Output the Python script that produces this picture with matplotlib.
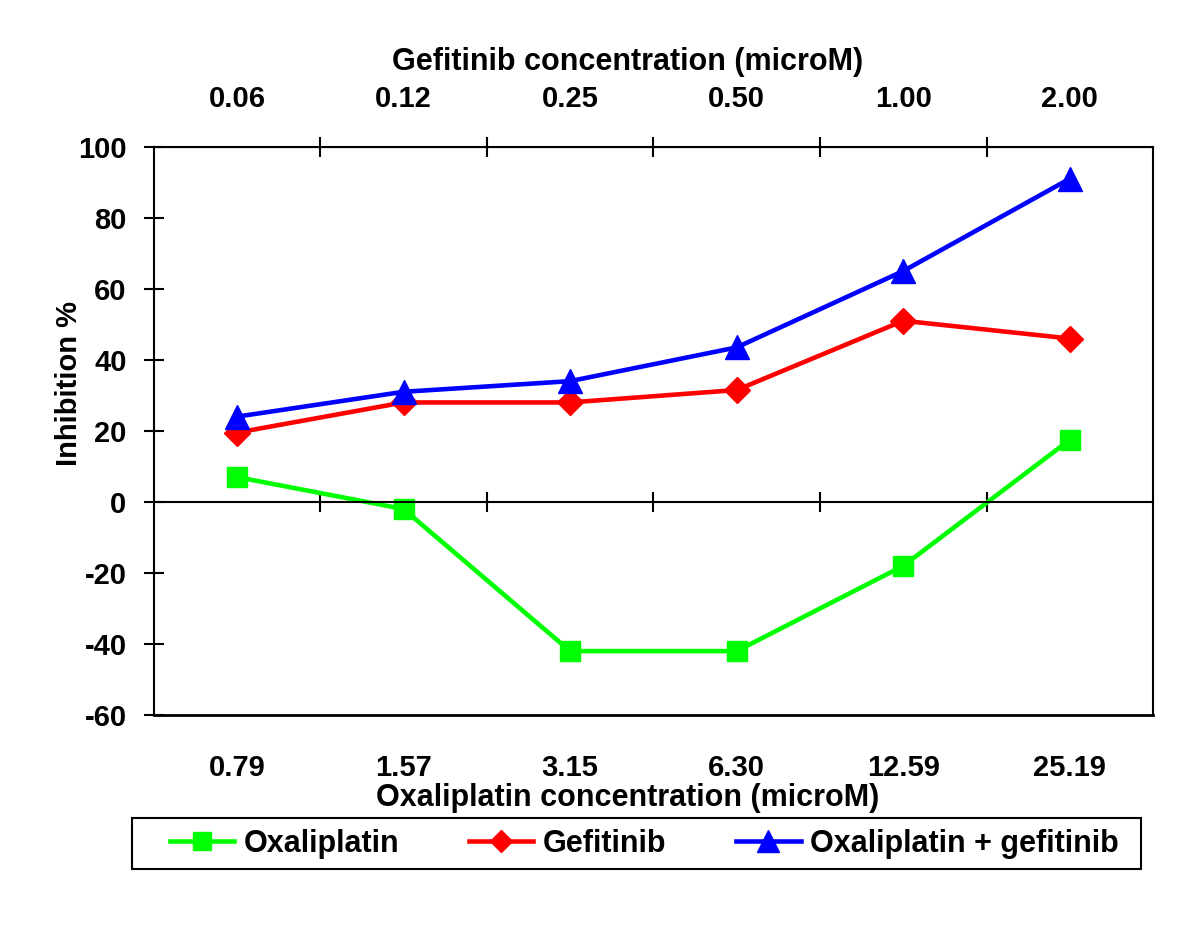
import matplotlib
matplotlib.use("Agg")
import matplotlib.pyplot as plt
from matplotlib.patches import Rectangle
import numpy as np

plt.rcParams['font.family'] = ['Liberation Sans', 'DejaVu Sans']
plt.rcParams['font.weight'] = 'bold'
plt.rcParams['axes.unicode_minus'] = False

oxali_conc = ['0.79', '1.57', '3.15', '6.30', '12.59', '25.19']
gefi_conc = ['0.06', '0.12', '0.25', '0.50', '1.00', '2.00']

oxaliplatin = [7, -2, -42, -42, -18, 17.5]
gefitinib = [19.5, 28, 28, 31.5, 51, 46]
combo = [24, 31, 34, 43.5, 65, 91]

x = np.arange(len(oxali_conc))

fig = plt.figure(figsize=(12, 9.38), dpi=100)
ax = fig.add_axes([0.128, 0.2377, 0.833, 0.6059])

ax.plot(x, oxaliplatin, color='#00ff00', lw=3.3, marker='s', ms=14, label='Oxaliplatin')
ax.plot(x, gefitinib, color='#ff0000', lw=3.3, marker='D', ms=13, label='Gefitinib')
ax.plot(x, combo, color='#0000ff', lw=3.3, marker='^', ms=17, label='Oxaliplatin + gefitinib')

ax.set_xlim(-0.5, 5.5)
ax.set_ylim(-60, 100)
ax.set_yticks(np.arange(-60, 101, 20))
ax.tick_params(axis='y', direction='inout', length=15, width=1.5, labelsize=21, pad=12)

# x axis crosses at zero, ticks between categories
ax.spines['bottom'].set_position(('data', 0))
for s in ax.spines.values():
    s.set_linewidth(1.5)
ax.set_xticks(x[:-1] + 0.5)
ax.tick_params(axis='x', which='both', direction='inout', length=15, width=1.5,
               top=True, bottom=True, labelbottom=False, labeltop=False)

# frame line at the bottom and category labels
bot = ax.secondary_xaxis('bottom')
bot.spines['bottom'].set_linewidth(2)
bot.set_xticks(x)
bot.set_xticklabels(oxali_conc)
bot.tick_params(length=0, labelsize=21, pad=28)

top = ax.secondary_xaxis('top')
top.set_xticks(x)
top.set_xticklabels(gefi_conc)
top.tick_params(length=0, labelsize=21, pad=24)

fig.text(628 / 1200, 1 - 798 / 938, 'Oxaliplatin concentration (microM)', fontsize=22,
         fontweight='bold', ha='center', va='center')
fig.text(628 / 1200, 1 - 62 / 938, 'Gefitinib concentration (microM)', fontsize=22,
         fontweight='bold', ha='center', va='center')

ax.set_ylabel('Inhibition %', fontsize=21, fontweight='bold')
ax.yaxis.set_label_coords(-0.071, 0.584)

leg = fig.legend(loc='center left', bbox_to_anchor=(170 / 1200, 1 - 843.5 / 938), ncol=3,
                 fontsize=22, frameon=False, handlelength=2.1, handletextpad=0.3,
                 columnspacing=2.3, borderpad=0, borderaxespad=0, markerscale=0.9)
fig.patches.append(Rectangle((132 / 1200, 1 - 869 / 938), 1009 / 1200, 51 / 938,
                             transform=fig.transFigure, fill=False, edgecolor='black', lw=1.5))

fig.savefig('out.png', dpi=100)
